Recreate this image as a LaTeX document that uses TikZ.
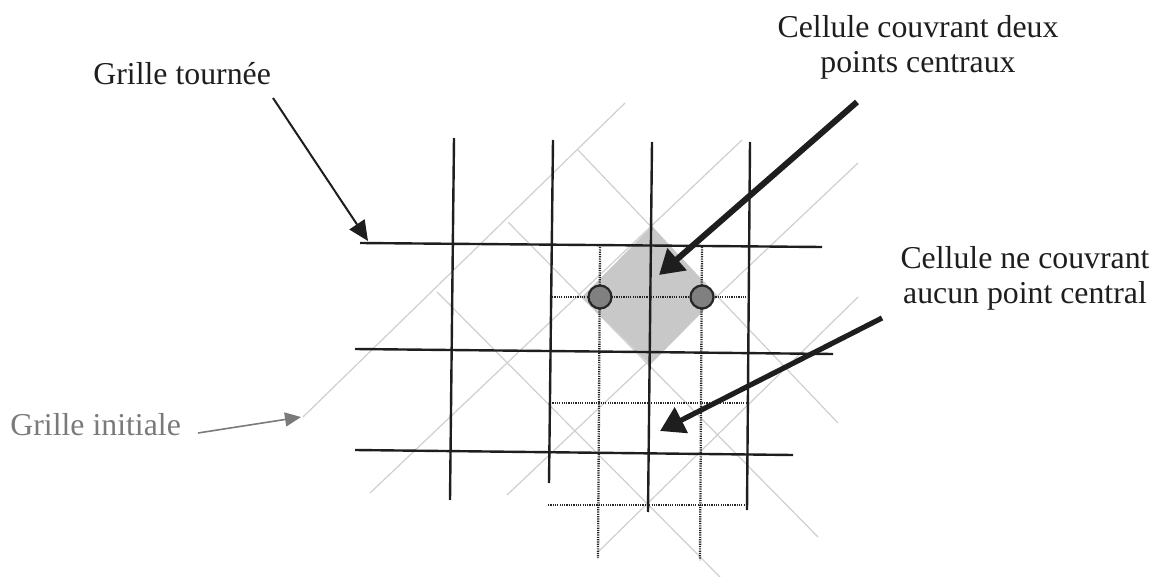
\documentclass[tikz,border=0pt]{standalone}
\usepackage{fontspec}
\setmainfont{Liberation Serif}
\usetikzlibrary{arrows.meta}
\definecolor{gridgray}{HTML}{CFCFCF}
\definecolor{diamondgray}{HTML}{C8C8C8}
\definecolor{ptgray}{HTML}{808080}
\definecolor{labelgray}{HTML}{7A7A7A}
\definecolor{inkblack}{HTML}{1E1E1E}
\begin{document}
\begin{tikzpicture}[x=0.5pt,y=-0.5pt,
  blackline/.style={line width=1.2pt, inkblack},
  dotline/.style={line width=1.15pt, black!85, dash pattern=on 0.6pt off 0.55pt},
  grayline/.style={line width=0.6pt, gridgray},
  lbl/.style={font=\fontsize{15.9}{17.5}\selectfont, inner sep=0pt, align=center, text=inkblack},
  centre/.style={circle, draw=black!85, line width=1.1pt, fill=ptgray, minimum size=11.5pt, inner sep=0pt},
  thinarrow/.style={line width=1pt, inkblack, -{Triangle[length=10pt,width=9pt]}},
  boldarrow/.style={line width=3pt, inkblack, -{Triangle[length=12pt,width=14pt]}},
  grayarrow/.style={line width=0.8pt, labelgray, -{Triangle[length=8pt,width=7pt]}}]
\useasboundingbox (0,0) rectangle (1155,577);

% initial (rotated) grid, light gray
\draw[grayline] (303,417) -- (625,103);
\draw[grayline] (370,493) -- (742,140);
\draw[grayline] (507,495) -- (858,163);
\draw[grayline] (598,552) -- (858,297);
\draw[grayline] (437,292) -- (720,577);
\draw[grayline] (508,222) -- (818,537);
\draw[grayline] (578,150) -- (838,423);

% cell covering two central points
\fill[diamondgray] (652,226) -- (717,297) -- (650,365) -- (582,297) -- cycle;

% dotted grid
\draw[dotline] (600,247) -- (598,558);
\draw[dotline] (702,247) -- (700,560);
\draw[dotline] (552,297) -- (748,297);
\draw[dotline] (550,403) -- (746,403);
\draw[dotline] (548,505) -- (746,505);

% black grid
\draw[blackline] (454,138) -- (450,500);
\draw[blackline] (553,140) -- (549,483);
\draw[blackline] (652,142) -- (648,512);
\draw[blackline] (750,142) -- (747,510);
\draw[blackline] (360,243) -- (822,247);
\draw[blackline] (355,349) -- (833,354);
\draw[blackline] (355,450) -- (793,455);

% central points
\node[centre] (p1) at (600,297) {};
\node[centre] (p2) at (702,297) {};

% labels
\node[lbl, anchor=base west] (t1) at (93,85) {Grille tourn\'ee};
\node[lbl, anchor=north] (t2) at (918,15.5) {Cellule couvrant deux\\points centraux};
\node[lbl, anchor=north] (t3) at (1025,246.5) {Cellule ne couvrant\\aucun point central};
\node[lbl, anchor=base west, text=labelgray] (t4) at (10,435) {Grille initiale};

% arrow ends
\coordinate (a1s) at (273,98);
\coordinate (a1e) at (368,241);
\coordinate (a2s) at (857,102);
\coordinate (a2e) at (659,275);
\coordinate (a3s) at (882,318);
\coordinate (a3e) at (660,431);
\coordinate (a4s) at (198,433);
\coordinate (a4e) at (301,417);

\draw[thinarrow] (a1s) -- (a1e);
\draw[boldarrow] (a2s) -- (a2e);
\draw[boldarrow, line width=2.6pt] (a3s) -- (a3e);
\draw[grayarrow] (a4s) -- (a4e);
\end{tikzpicture}
\end{document}
